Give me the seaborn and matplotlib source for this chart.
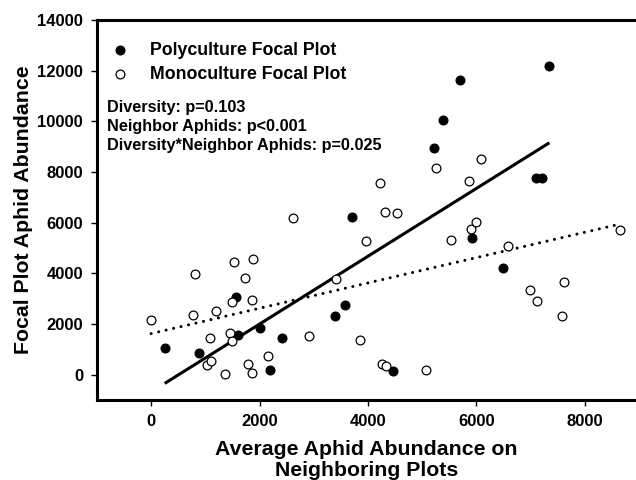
import numpy as np
import pandas as pd
import matplotlib
matplotlib.use("Agg")
import matplotlib.pyplot as plt
import seaborn as sns

# ---- data ----
poly_x = [250, 885, 1565, 1600, 2000, 2415, 2190, 3400, 3570, 3715, 4455,
          5230, 5380, 5700, 7350, 5920, 6500, 7100, 7210]
poly_y = [1050, 840, 3050, 1565, 1840, 1450, 180, 2300, 2750, 6235, 130,
          8940, 10050, 11630, 12200, 5390, 4195, 7780, 7760]

mono_x = [0, 770, 800, 1030, 1110, 1090, 1190, 1365, 1450, 1490, 1495, 1520,
          1740, 1780, 1860, 1870, 1880, 2150, 2610, 2920, 3410, 3860, 3960,
          4230, 4260, 4320, 4340, 4530, 5070, 5260, 5530, 5870, 5900, 6000,
          6080, 6590, 6990, 7130, 7590, 7620, 8650]
mono_y = [2155, 2355, 3970, 395, 525, 1430, 2500, 30, 1630, 1340, 2880, 4455,
          3800, 420, 2945, 50, 4560, 720, 6180, 1540, 3760, 1370, 5260,
          7550, 420, 6430, 355, 6380, 200, 8140, 5325, 7650, 5750, 6040,
          8530, 5090, 3345, 2910, 2300, 3670, 5720]

groups = ["Polyculture Focal Plot", "Monoculture Focal Plot"]
stats_lines = ["Diversity: p=0.103",
               "Neighbor Aphids: p<0.001",
               "Diversity*Neighbor Aphids: p=0.025"]
x_ticks = [0, 2000, 4000, 6000, 8000]
y_ticks = [0, 2000, 4000, 6000, 8000, 10000, 12000, 14000]
x_label = "Average Aphid Abundance on\nNeighboring Plots"
y_label = "Focal Plot Aphid Abundance"

df = pd.DataFrame({
    "x": poly_x + mono_x,
    "y": poly_y + mono_y,
    "group": [groups[0]] * len(poly_x) + [groups[1]] * len(mono_x),
})

sns.set_style("ticks")
plt.rcParams["font.family"] = ["Liberation Sans", "DejaVu Sans"]
plt.rcParams["font.weight"] = "bold"
for k in ["text.color", "axes.labelcolor", "xtick.color", "ytick.color",
          "xtick.labelcolor", "ytick.labelcolor"]:
    plt.rcParams[k] = "black"

fig = plt.figure(figsize=(6.36, 4.8), dpi=100)
ax = fig.add_axes([97 / 636, 80 / 480, 1 - 97 / 636, 380 / 480])

# regression lines
sns.regplot(data=df[df.group == groups[0]], x="x", y="y", scatter=False,
            ci=None, color="black", ax=ax, truncate=True,
            line_kws=dict(lw=2.2, solid_capstyle="butt"))
sns.regplot(data=df[df.group == groups[1]], x="x", y="y", scatter=False,
            ci=None, color="black", ax=ax, truncate=True,
            line_kws=dict(lw=2.2, linestyle=(0, (0.01, 2.5)),
                          dash_capstyle="round"))

# points
sns.scatterplot(data=df[df.group == groups[0]], x="x", y="y", ax=ax,
                color="black", edgecolor="black", s=40, linewidth=0.9,
                label=groups[0], zorder=3)
sns.scatterplot(data=df[df.group == groups[1]], x="x", y="y", ax=ax,
                color="white", edgecolor="black", s=40, linewidth=0.9,
                label=groups[1], zorder=3)

ax.set_xlim(-1000, 8950)
ax.set_ylim(-1000, 14000)
ax.set_xticks(x_ticks)
ax.set_yticks(y_ticks)
ax.tick_params(axis="both", direction="out", length=4, width=1.0,
               labelsize=12, pad=6, colors="black")
for lab in ax.get_xticklabels() + ax.get_yticklabels():
    lab.set_fontweight("bold")

ax.spines["right"].set_visible(False)
for s in ["left", "bottom", "top"]:
    ax.spines[s].set_linewidth(2.2)
    ax.spines[s].set_color("black")

ax.set_xlabel(x_label, fontsize=15.3, fontweight="bold", labelpad=8,
              linespacing=1.15, color="black")
ax.set_ylabel(y_label, fontsize=15.3, fontweight="bold", labelpad=3,
              color="black")

leg = ax.legend(loc="upper left", bbox_to_anchor=(-0.013, 0.975),
                frameon=False, prop=dict(weight="bold", size=12.8),
                handletextpad=0.65, labelspacing=0.4, borderaxespad=0.3,
                markerscale=1.0)
for t in leg.get_texts():
    t.set_color("black")

ax.text(0.019, 0.79, "\n".join(stats_lines), transform=ax.transAxes,
        fontsize=11.7, fontweight="bold", va="top", ha="left",
        linespacing=1.33, color="black")

fig.savefig("out.png", dpi=100)
